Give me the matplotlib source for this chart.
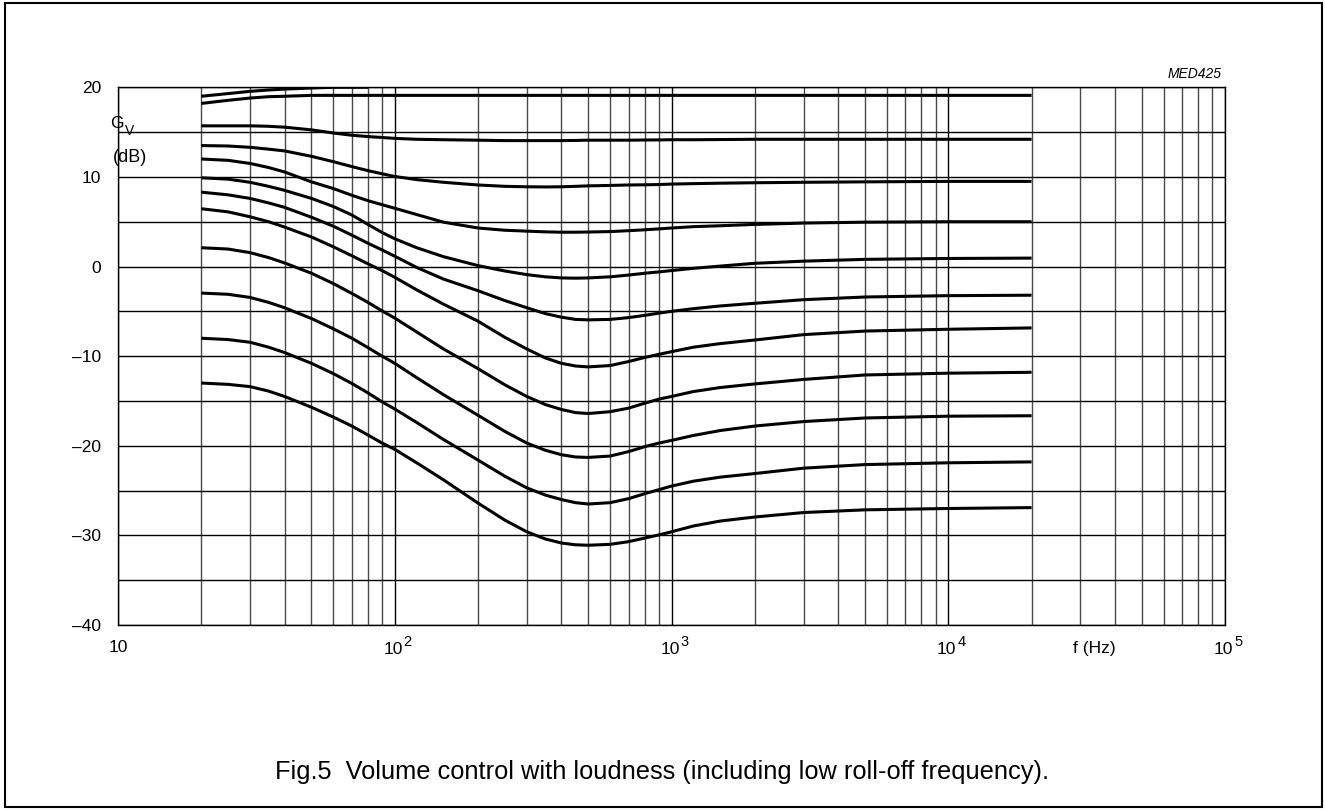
import numpy as np
import matplotlib
matplotlib.use("Agg")
import matplotlib.pyplot as plt
from matplotlib.patches import Rectangle
from matplotlib.ticker import LogLocator, NullFormatter, FixedLocator
from matplotlib.transforms import ScaledTranslation

plt.rcParams["font.family"] = ["Liberation Sans", "DejaVu Sans"]

# frequencies (Hz) at which the curves were read
freq = [20, 25, 30, 35, 40, 50, 60, 70, 80, 90, 100, 120, 150, 200, 250, 300,
        350, 400, 450, 500, 600, 700, 800, 900, 1000, 1200, 1500, 2000, 3000,
        5000, 10000, 20000]
freq_a = [20, 25, 30, 35, 40, 50, 60, 80]
freq_b = [20, 25, 30, 35, 40, 50, 20000]

# gain Gv (dB) per volume setting, top to bottom
gv_a = [19.0, 19.3, 19.55, 19.7, 19.8, 19.92, 20.0, 20.0]
gv_b = [18.2, 18.55, 18.8, 18.95, 19.0, 19.1, 19.1]
gv_c = [15.7, 15.7, 15.7, 15.65, 15.55, 15.25, 14.9, 14.65, 14.5, 14.4, 14.3,
        14.2, 14.15, 14.1, 14.05, 14.05, 14.05, 14.05, 14.07, 14.1, 14.1, 14.1,
        14.12, 14.13, 14.15, 14.15, 14.17, 14.2, 14.2, 14.2, 14.2, 14.2]
gv_d = [13.5, 13.45, 13.3, 13.1, 12.9, 12.3, 11.7, 11.15, 10.7, 10.35, 10.05,
        9.7, 9.4, 9.1, 8.95, 8.9, 8.88, 8.9, 8.95, 9.0, 9.05, 9.1,
        9.12, 9.15, 9.2, 9.25, 9.3, 9.35, 9.4, 9.45, 9.5, 9.5]
gv_e = [12.0, 11.85, 11.5, 11.05, 10.55, 9.45, 8.7, 7.95, 7.35, 6.9, 6.5,
        5.8, 4.95, 4.3, 4.05, 3.95, 3.87, 3.83, 3.83, 3.85, 3.9, 4.0,
        4.1, 4.2, 4.3, 4.45, 4.55, 4.7, 4.85, 4.95, 5.0, 5.0]
gv_f = [9.9, 9.75, 9.4, 8.95, 8.5, 7.6, 6.7, 5.75, 4.7, 3.8, 3.1,
        2.1, 1.1, 0.1, -0.5, -0.9, -1.15, -1.27, -1.3, -1.27, -1.15, -0.95,
        -0.75, -0.6, -0.45, -0.2, 0.05, 0.36, 0.6, 0.8, 0.9, 0.94]
gv_g = [8.3, 8.0, 7.6, 7.1, 6.6, 5.5, 4.5, 3.5, 2.6, 1.85, 1.15,
        -0.1, -1.4, -2.7, -3.8, -4.6, -5.25, -5.65, -5.9, -5.95, -5.9, -5.7,
        -5.45, -5.2, -5.0, -4.7, -4.4, -4.1, -3.7, -3.4, -3.25, -3.2]
gv_h = [6.45, 6.1, 5.55, 5.0, 4.4, 3.3, 2.2, 1.2, 0.3, -0.45, -1.2,
        -2.6, -4.2, -6.1, -7.9, -9.2, -10.2, -10.8, -11.1, -11.2, -11.05, -10.6,
        -10.15, -9.8, -9.5, -9.0, -8.6, -8.2, -7.6, -7.2, -7.0, -6.85]
gv_i = [2.1, 1.95, 1.55, 1.0, 0.4, -0.75, -1.9, -3.0, -4.0, -4.95, -5.75,
        -7.3, -9.2, -11.4, -13.2, -14.5, -15.4, -15.95, -16.3, -16.4, -16.2, -15.8,
        -15.25, -14.8, -14.5, -13.95, -13.5, -13.1, -12.6, -12.1, -11.9, -11.8]
gv_j = [-2.96, -3.1, -3.45, -4.0, -4.6, -5.8, -6.95, -8.0, -9.05, -10.0, -10.8,
        -12.4, -14.3, -16.6, -18.4, -19.7, -20.5, -21.0, -21.25, -21.3, -21.15, -20.65,
        -20.1, -19.7, -19.4, -18.85, -18.3, -17.8, -17.3, -16.9, -16.7, -16.65]
gv_k = [-8.0, -8.15, -8.45, -9.0, -9.6, -10.8, -11.95, -13.05, -14.1, -15.1, -15.9,
        -17.4, -19.3, -21.6, -23.4, -24.7, -25.5, -26.0, -26.35, -26.5, -26.35, -25.9,
        -25.35, -24.9, -24.5, -23.95, -23.5, -23.1, -22.5, -22.1, -21.9, -21.8]
gv_l = [-13.0, -13.15, -13.4, -13.9, -14.5, -15.7, -16.8, -17.8, -18.8, -19.7, -20.4,
        -21.9, -23.8, -26.4, -28.3, -29.6, -30.4, -30.85, -31.05, -31.1, -31.0, -30.7,
        -30.3, -29.95, -29.6, -28.95, -28.4, -27.95, -27.45, -27.15, -27.0, -26.9]

xticks = [10, 100, 1000, 10000, 100000]
xexps = ["", "2", "3", "4", "5"]
yticks = [20, 15, 10, 5, 0, -5, -10, -15, -20, -25, -30, -35, -40]
ylabels = ["20", "", "10", "", "0", "", "\u201310", "", "\u201320", "", "\u201330", "", "\u201340"]

W, H = 1325, 810
fig = plt.figure(figsize=(W / 100, H / 100), dpi=100)
ax = fig.add_axes([118 / W, 1 - 625 / H, (1225 - 118) / W, (625 - 87.3) / H])

ax.set_xscale("log")
ax.set_xlim(10, 1e5)
ax.set_ylim(-40, 20)

ax.xaxis.set_major_locator(FixedLocator(xticks))
ax.xaxis.set_minor_locator(LogLocator(base=10, subs=np.arange(2, 10)))
ax.xaxis.set_major_formatter(NullFormatter())
ax.xaxis.set_minor_formatter(NullFormatter())
ax.set_yticks(yticks)
ax.set_yticklabels(ylabels)
ax.tick_params(which="both", length=0, labelsize=12.5, colors="black")
ax.tick_params(axis="y", pad=12)

ax.grid(which="major", color="black", lw=1.0)
ax.grid(which="minor", axis="x", color="#4a4a4a", lw=1.0)
for s in ax.spines.values():
    s.set_linewidth(1.0)
    s.set_color("black")

curve_style = dict(color="black", lw=2.2, solid_capstyle="butt",
                   solid_joinstyle="round", zorder=3)
ax.plot(freq_a, gv_a, **curve_style)
ax.plot(freq_b, gv_b, **curve_style)
for gv in [gv_c, gv_d, gv_e, gv_f, gv_g, gv_h, gv_i, gv_j, gv_k, gv_l]:
    ax.plot(freq, gv, **curve_style)


def below_axis(dx, dy):
    # x in data, y at the bottom of the axes, shifted by pixels
    return ax.get_xaxis_transform() + ScaledTranslation(dx / 100, dy / 100,
                                                        fig.dpi_scale_trans)


# x tick labels as 10 with a raised exponent
for f, e in zip(xticks, xexps):
    if e:
        ax.text(f, 0, "10", fontsize=12.5, ha="right", va="center",
                transform=below_axis(8, -24))
        ax.text(f, 0, e, fontsize=10.5, ha="left", va="center",
                transform=below_axis(9, -17))
    else:
        ax.text(f, 0, "10", fontsize=12.5, ha="center", va="center",
                transform=below_axis(0, -23))
ax.text(3.36e4, 0, "f (Hz)", fontsize=12.5, ha="center", va="center",
        transform=below_axis(0, -24))

# y axis caption
fig.text(110 / W, 1 - 123 / H, "G", fontsize=12.5, ha="left", va="center")
fig.text(125 / W, 1 - 131 / H, "V", fontsize=10, ha="left", va="center")
fig.text(130 / W, 1 - 157 / H, "(dB)", fontsize=13, ha="center", va="center")

fig.text(1222 / W, 1 - 74 / H, "MED425", fontsize=10, style="italic",
         ha="right", va="center")
fig.text(662 / W, 1 - 772 / H,
         "Fig.5  Volume control with loudness (including low roll-off frequency).",
         fontsize=18.3, ha="center", va="center")

fig.patches.append(Rectangle((5 / W, 3 / H), 1 - 8 / W, 1 - 6 / H,
                             transform=fig.transFigure, fill=False,
                             edgecolor="black", lw=1.5))

fig.savefig("out.png", dpi=100)
